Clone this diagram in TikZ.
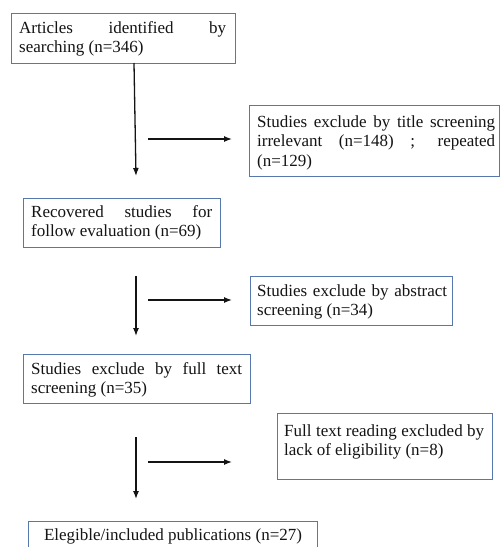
\documentclass[tikz,border=0pt]{standalone}
\usepackage{fontspec}
\setmainfont{Liberation Serif}
\usetikzlibrary{arrows.meta}
\definecolor{boxblue}{RGB}{86,120,172}
\definecolor{inkc}{RGB}{20,20,20}
\begin{document}
\begin{tikzpicture}[x=1pt,y=-1pt,
  frame/.style={draw=boxblue, line width=1.4pt, anchor=north west, inner sep=0pt},
  txt/.style={anchor=north west, inner sep=0pt, align=justify, text=inkc,
    font=\fontsize{17}{19.5}\selectfont,
    execute at begin node={\tolerance=10000\hyphenpenalty=10000\strut}},
  arr/.style={line width=1.3pt, draw=inkc, -{Latex[length=8pt,width=6pt]}}
]
\clip (0,0) rectangle (500,547);
\fill[white] (0,0) rectangle (500,547);

% boxes
\node[frame, minimum width=224pt, minimum height=50pt] (b1) at (11,13) {};
\node[txt, text width=207pt] (t1) at (19,19.35) {Articles identified by\linebreak searching (n=346)};

\node[frame, minimum width=250pt, minimum height=71pt] (b2) at (249,105) {};
\node[txt, text width=238pt] (t2) at (257,113.35) {Studies exclude by title screening\linebreak irrelevant (n=148) ; repeated\linebreak (n=129)};

\node[frame, minimum width=197pt, minimum height=49pt] (b3) at (23,198) {};
\node[txt, text width=181pt] (t3) at (31,203.35) {Recovered studies for\linebreak follow evaluation (n=69)};

\node[frame, minimum width=202pt, minimum height=49pt] (b4) at (250,276) {};
\node[txt, text width=190pt] (t4) at (257,282.35) {Studies exclude by abstract\linebreak screening (n=34)};

\node[frame, minimum width=227pt, minimum height=49pt] (b5) at (23,354) {};
\node[txt, text width=211pt] (t5) at (31,360.35) {Studies exclude by full text\linebreak screening (n=35)};

\node[frame, minimum width=215pt, minimum height=66pt] (b6) at (277,413) {};
\node[txt, text width=200pt] (t6) at (284,422.35) {Full text reading excluded by\linebreak lack of eligibility (n=8)};

\node[frame, minimum width=289pt, minimum height=40pt] (b7) at (28,521) {};
\node[anchor=base, inner sep=0pt, text=inkc, font=\fontsize{17}{19.5}\selectfont] (t7) at (173,540) {Elegible/included publications (n=27)};

% arrow end points
\coordinate (a1s) at (134,63);  \coordinate (a1e) at (136,176);
\coordinate (h1s) at (148,139); \coordinate (h1e) at (232,139);
\coordinate (a2s) at (136,276); \coordinate (a2e) at (136,336);
\coordinate (h2s) at (148,300); \coordinate (h2e) at (232,300);
\coordinate (a3s) at (136,437); \coordinate (a3e) at (136,499);
\coordinate (h3s) at (148,462); \coordinate (h3e) at (232,462);

\draw[arr] (a1s) -- (a1e);
\draw[arr] (h1s) -- (h1e);
\draw[arr] (a2s) -- (a2e);
\draw[arr] (h2s) -- (h2e);
\draw[arr] (a3s) -- (a3e);
\draw[arr] (h3s) -- (h3e);
\end{tikzpicture}
\end{document}
